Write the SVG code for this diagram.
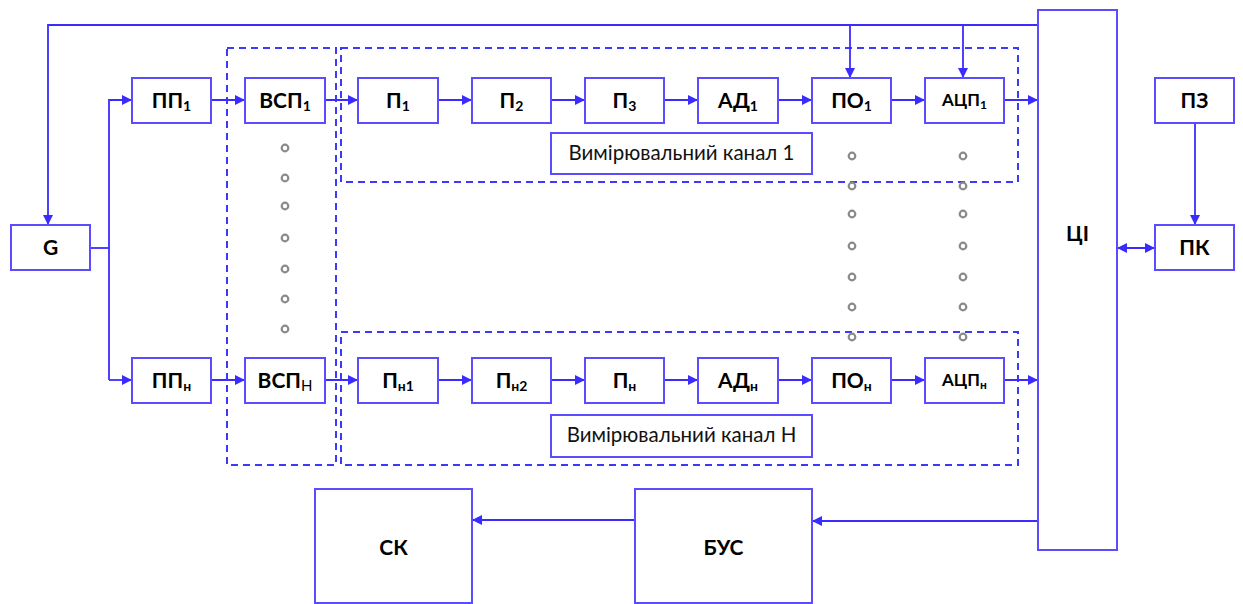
<svg xmlns="http://www.w3.org/2000/svg" width="1243" height="604" viewBox="0 0 1243 604">
<defs>
<marker id="ah" viewBox="0 0 10 10" refX="10" refY="5" markerWidth="10" markerHeight="10" markerUnits="userSpaceOnUse" orient="auto-start-reverse">
<path d="M0,0 L10,5 L0,10 z" fill="#3a2cff"/>
</marker>
<style>
.box{fill:#fff;stroke:#5b4cff;stroke-width:2}
.lbl{font-family:Lato,"Liberation Sans",sans-serif;font-weight:bold;font-size:21px;fill:#000;text-anchor:middle}
.sm{font-size:17px}
.sub{font-size:14px}
.cap{font-family:Lato,"Liberation Sans",sans-serif;font-size:20.5px;fill:#111;text-anchor:middle}
.ln{fill:none;stroke:#3a2cff;stroke-width:1.8}
.arr{fill:none;stroke:#3a2cff;stroke-width:1.8;marker-end:url(#ah)}
.dash{fill:none;stroke:#3a3aff;stroke-width:2;stroke-dasharray:7,5}
.dot{fill:#fff;stroke:#8a8a8a;stroke-width:2.2}
</style>
</defs>
<rect width="1243" height="604" fill="#fff"/>

<g id="groups">
<rect class="dash" x="227" y="48" width="109" height="417"/>
<rect class="dash" x="341" y="48" width="677" height="134"/>
<rect class="dash" x="341" y="332" width="677" height="133"/>
</g>

<g id="dots">
<circle class="dot" cx="285" cy="148" r="3.3"/>
<circle class="dot" cx="285" cy="178" r="3.3"/>
<circle class="dot" cx="285" cy="206" r="3.3"/>
<circle class="dot" cx="285" cy="238" r="3.3"/>
<circle class="dot" cx="285" cy="269" r="3.3"/>
<circle class="dot" cx="285" cy="299" r="3.3"/>
<circle class="dot" cx="285" cy="329" r="3.3"/>
<circle class="dot" cx="852" cy="156" r="3.3"/>
<circle class="dot" cx="852" cy="186" r="3.3"/>
<circle class="dot" cx="852" cy="214" r="3.3"/>
<circle class="dot" cx="852" cy="246" r="3.3"/>
<circle class="dot" cx="852" cy="277" r="3.3"/>
<circle class="dot" cx="852" cy="307" r="3.3"/>
<circle class="dot" cx="852" cy="337" r="3.3"/>
<circle class="dot" cx="963" cy="156" r="3.3"/>
<circle class="dot" cx="963" cy="186" r="3.3"/>
<circle class="dot" cx="963" cy="214" r="3.3"/>
<circle class="dot" cx="963" cy="246" r="3.3"/>
<circle class="dot" cx="963" cy="277" r="3.3"/>
<circle class="dot" cx="963" cy="307" r="3.3"/>
<circle class="dot" cx="963" cy="337" r="3.3"/>
</g>

<g id="connectors">
<path class="arr" d="M1038,25 H48 V225"/>
<path class="arr" d="M850,25 V78"/>
<path class="arr" d="M963,25 V78"/>
<path class="ln" d="M90,248 H109"/>
<path class="arr" d="M109,380 V100 H132"/>
<path class="arr" d="M109,380 H132"/>
<path class="arr" d="M211,100 H245"/>
<path class="arr" d="M325,100 H358"/>
<path class="arr" d="M438,100 H472"/>
<path class="arr" d="M551,100 H585"/>
<path class="arr" d="M664,100 H698"/>
<path class="arr" d="M778,100 H812"/>
<path class="arr" d="M891,100 H925"/>
<path class="arr" d="M1004,100 H1038"/>
<path class="arr" d="M211,380 H245"/>
<path class="arr" d="M325,380 H358"/>
<path class="arr" d="M438,380 H472"/>
<path class="arr" d="M551,380 H585"/>
<path class="arr" d="M664,380 H698"/>
<path class="arr" d="M778,380 H812"/>
<path class="arr" d="M891,380 H925"/>
<path class="arr" d="M1004,380 H1038"/>
<path class="arr" d="M1195,123 V225"/>
<path class="arr" d="M1117,248 H1155" marker-start="url(#ah)"/>
<path class="arr" d="M1038,521 H812"/>
<path class="arr" d="M635,520 H472"/>
</g>

<g id="G"><rect class="box" x="11" y="225" width="79" height="45"/><text class="lbl" x="50.5" y="255">G</text></g>
<g id="PP1"><rect class="box" x="132" y="78" width="79" height="45"/><text class="lbl" x="171.5" y="108">ПП<tspan class="sub" dy="3">1</tspan></text></g>
<g id="VSP1"><rect class="box" x="245" y="78" width="80" height="45"/><text class="lbl" x="285" y="108">ВСП<tspan class="sub" dy="3">1</tspan></text></g>
<g id="P1"><rect class="box" x="358" y="78" width="80" height="45"/><text class="lbl" x="398" y="108">П<tspan class="sub" dy="3">1</tspan></text></g>
<g id="P2"><rect class="box" x="472" y="78" width="79" height="45"/><text class="lbl" x="511.5" y="108">П<tspan class="sub" dy="3">2</tspan></text></g>
<g id="P3"><rect class="box" x="585" y="78" width="79" height="45"/><text class="lbl" x="624.5" y="108">П<tspan class="sub" dy="3">3</tspan></text></g>
<g id="AD1"><rect class="box" x="698" y="78" width="80" height="45"/><text class="lbl" x="738" y="108">АД<tspan class="sub" dy="3">1</tspan></text></g>
<g id="PO1"><rect class="box" x="812" y="78" width="79" height="45"/><text class="lbl" x="851.5" y="108">ПО<tspan class="sub" dy="3">1</tspan></text></g>
<g id="ADC1"><rect class="box" x="925" y="78" width="79" height="45"/><text class="lbl sm" x="964.5" y="106">АЦП<tspan class="sub" dy="3" style="font-size:12px">1</tspan></text></g>
<g id="label1"><rect class="box" x="551" y="133" width="261" height="41"/><text class="cap" x="681.5" y="160">Вимірювальний канал 1</text></g>

<g id="PPn"><rect class="box" x="132" y="358" width="79" height="45"/><text class="lbl" x="171.5" y="388">ПП<tspan class="sub" dy="3">н</tspan></text></g>
<g id="VSPn"><rect class="box" x="245" y="358" width="80" height="45"/><text class="lbl" x="285" y="388">ВСП<tspan class="sub" dy="3" style="font-weight:normal;font-size:15px">Н</tspan></text></g>
<g id="Pn1"><rect class="box" x="358" y="358" width="80" height="45"/><text class="lbl" x="398" y="388">П<tspan class="sub" dy="3">н1</tspan></text></g>
<g id="Pn2"><rect class="box" x="472" y="358" width="79" height="45"/><text class="lbl" x="511.5" y="388">П<tspan class="sub" dy="3">н2</tspan></text></g>
<g id="Pn"><rect class="box" x="585" y="358" width="79" height="45"/><text class="lbl" x="624.5" y="388">П<tspan class="sub" dy="3">н</tspan></text></g>
<g id="ADn"><rect class="box" x="698" y="358" width="80" height="45"/><text class="lbl" x="738" y="388">АД<tspan class="sub" dy="3">н</tspan></text></g>
<g id="POn"><rect class="box" x="812" y="358" width="79" height="45"/><text class="lbl" x="851.5" y="388">ПО<tspan class="sub" dy="3">н</tspan></text></g>
<g id="ADCn"><rect class="box" x="925" y="358" width="79" height="45"/><text class="lbl sm" x="964.5" y="386">АЦП<tspan class="sub" dy="3" style="font-size:12px">н</tspan></text></g>
<g id="labelN"><rect class="box" x="551" y="415" width="261" height="42"/><text class="cap" x="681.5" y="442">Вимірювальний канал Н</text></g>

<g id="CI"><rect class="box" x="1038" y="10" width="79" height="540"/><text class="lbl" x="1077.5" y="241">ЦІ</text></g>
<g id="PZ"><rect class="box" x="1155" y="78" width="79" height="45"/><text class="lbl" x="1194.5" y="108">ПЗ</text></g>
<g id="PK"><rect class="box" x="1155" y="225" width="79" height="45"/><text class="lbl" x="1194.5" y="255">ПК</text></g>
<g id="BUS"><rect class="box" x="635" y="489" width="177" height="114"/><text class="lbl" x="723.5" y="555">БУС</text></g>
<g id="SK"><rect class="box" x="315" y="489" width="157" height="114"/><text class="lbl" x="393.5" y="555">СК</text></g>
</svg>
